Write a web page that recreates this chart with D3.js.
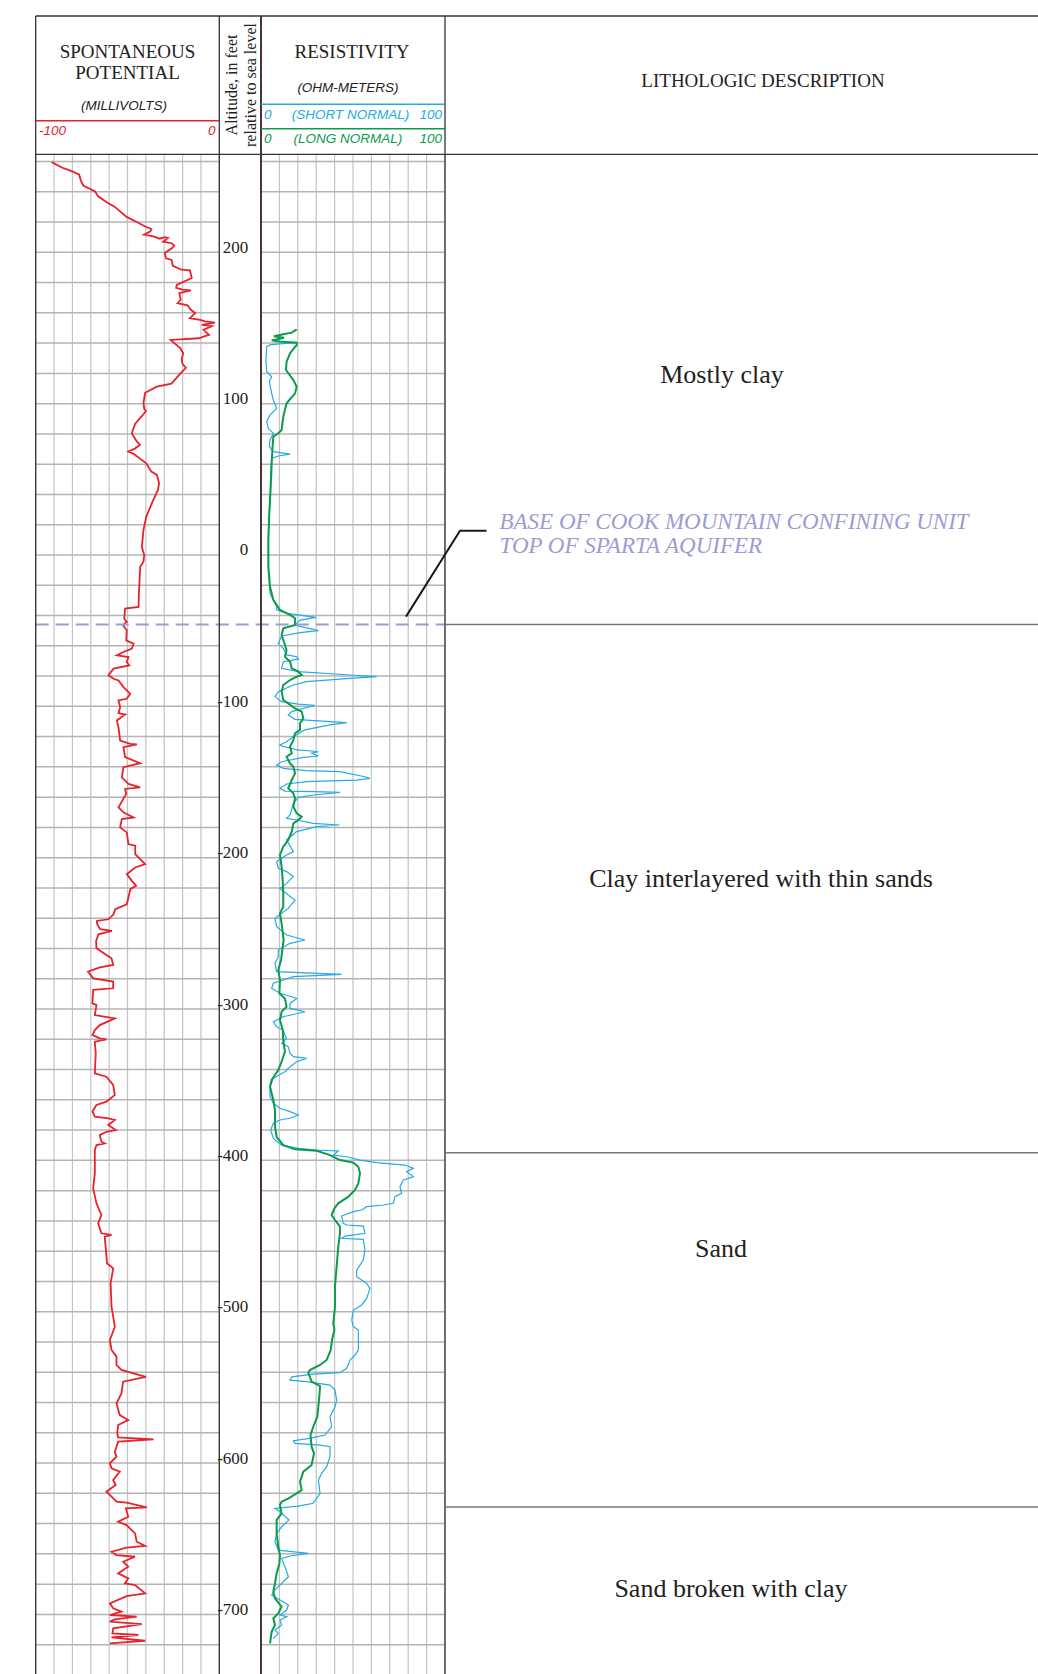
<!DOCTYPE html>
<html>
<head>
<meta charset="utf-8">
<script src="https://cdn.jsdelivr.net/npm/d3@7"></script>
<style>
  body { margin: 0; background: #fff; }
  svg { display: block; }
</style>
</head>
<body>
<svg id="root"></svg>
<script>
// spontaneous potential, [altitude ft, millivolts]
const spLog = [[259.6,-91.3],[256,-85.8],[253.6,-80.4],[251.4,-76.4],[247,-75.3],[244,-74],[240.4,-67.8],[237,-66],[233,-61.3],[230,-56.9],[223.4,-50.5],[220,-45],[216.7,-39.8],[215.4,-37],[213.9,-37.5],[211.7,-41],[210.5,-36],[209,-32.5],[210,-29.8],[209.5,-28],[207,-30.6],[206,-26],[204.4,-24.6],[203,-25.5],[199.6,-29.7],[196,-29],[195,-26],[191,-25.3],[188.5,-20.6],[188,-16],[183,-15],[178.5,-23.2],[176.5,-23.5],[175.3,-20],[174.8,-15.5],[173,-21.8],[168.6,-21],[166.4,-22.7],[164.9,-17.3],[162,-15.5],[159.8,-13.1],[156.5,-16],[155.4,-10.5],[154.3,-7.8],[153.6,-2.3],[152,-9.5],[151.2,-4],[148.8,-8.6],[145.4,-5.6],[144.3,-8.6],[143.2,-11],[142.1,-26.5],[139.5,-24],[136.6,-21.2],[133.3,-19.7],[128.9,-20.5],[126.2,-20],[123.7,-18.2],[119.4,-21.6],[113.2,-26.1],[111.2,-34],[107.2,-40.4],[100.6,-41.3],[96.6,-40.9],[95,-40],[91.7,-42.2],[86.8,-45.8],[82.8,-47],[80.5,-47.6],[78.4,-46.7],[75,-44.9],[72.8,-43.2],[70.3,-46],[68.4,-49.5],[66.8,-46.7],[60.6,-39.8],[55.1,-37],[52.9,-34],[47.4,-32.8],[43,-33.4],[36.3,-36],[25.3,-39.8],[16.5,-41.3],[5.4,-42.2],[0,-40.9],[-4.4,-41.3],[-7.8,-43.1],[-16.6,-43.4],[-25.4,-43.8],[-34.3,-44],[-35.4,-51.3],[-42,-51.8],[-44.2,-50.4],[-46.4,-52.5],[-49.7,-50.4],[-56.4,-50.7],[-58.6,-46.7],[-61.9,-47.6],[-64.1,-52.2],[-66.3,-55.8],[-67.4,-49.5],[-70.7,-50.4],[-73,-49],[-75.1,-57.6],[-79.5,-60.4],[-81.8,-57.6],[-82.9,-54.9],[-87.3,-52.2],[-91.7,-48.5],[-95,-50.4],[-96.1,-54.9],[-100.5,-54],[-104.5,-54.9],[-105.4,-51.3],[-109.3,-55.8],[-113.8,-54.9],[-122.6,-54],[-124.8,-48.5],[-125.2,-44.9],[-127,-52.2],[-133.6,-51.3],[-137.6,-43.1],[-140.2,-52.2],[-146.9,-53.1],[-151.3,-49.5],[-153.5,-43.1],[-154.6,-51.3],[-157.9,-50.7],[-166.7,-54.9],[-170,-52.2],[-173.4,-46.7],[-174.5,-53.1],[-180,-54],[-183.3,-50.4],[-191,-49.5],[-192.1,-45.8],[-197.6,-45.8],[-204.3,-40.4],[-206.5,-45.8],[-210.9,-50.4],[-215.3,-47.6],[-218.6,-45.3],[-220.8,-48.5],[-226.3,-49.5],[-230.8,-50.4],[-234.1,-56.7],[-237.4,-57.6],[-240.7,-60.4],[-241.8,-66.7],[-244,-66.5],[-247.3,-64.9],[-248.4,-58.5],[-250.6,-65.8],[-255.1,-67.1],[-259.9,-66.9],[-264.3,-61.5],[-266.5,-58.7],[-270.9,-57.8],[-272.5,-65.1],[-275.3,-71.5],[-279.7,-68.7],[-281.9,-57.8],[-286.3,-57.8],[-287.4,-68.7],[-296.3,-69.1],[-297.4,-66.9],[-304,-67.8],[-306.2,-56.9],[-310.6,-65.1],[-313.9,-67.8],[-317.2,-69.1],[-319.4,-65.1],[-320,-61.5],[-321.6,-67.8],[-329.3,-67.3],[-342.5,-67.8],[-344.7,-61.5],[-350.2,-57.8],[-356.8,-56.9],[-361.2,-61.5],[-363.4,-66.9],[-367.8,-69.1],[-371.1,-67.8],[-372.2,-60.5],[-373.3,-56.9],[-376.6,-60.5],[-380,-56.4],[-381.1,-61.5],[-383.3,-65.1],[-387.7,-64.2],[-388.8,-62.4],[-389.9,-66.9],[-393.2,-67.8],[-408.6,-67.8],[-418.5,-68.7],[-428.4,-66.9],[-436.1,-64.2],[-441.6,-66],[-448.2,-64.2],[-449.3,-58.7],[-450.4,-62.4],[-468.1,-61.1],[-471.4,-57.8],[-481.3,-59.2],[-496.7,-58.7],[-509.9,-56.9],[-518.7,-59.6],[-525.3,-58.7],[-529.7,-56],[-535.2,-56],[-538.5,-53.3],[-543,-40],[-546.2,-52.4],[-554,-53.3],[-560.6,-56],[-568.3,-54.2],[-571.6,-49.6],[-574.9,-55.1],[-580.4,-55.6],[-583,-55.1],[-584.4,-35.8],[-585.9,-55.1],[-592.5,-56.9],[-595.8,-56],[-600.2,-59.6],[-603.5,-58.7],[-605.7,-54.2],[-611.2,-57.8],[-614.5,-56.4],[-618.9,-61.5],[-622.2,-58.7],[-625.5,-56],[-626.2,-50.5],[-629.3,-39.5],[-629.9,-50.9],[-635.5,-49.6],[-638.8,-55.1],[-641,-50.5],[-646.5,-45.9],[-652,-45],[-654.8,-40.4],[-655.9,-50.5],[-658.6,-58.7],[-660.8,-56],[-661.9,-45.9],[-665.2,-52.4],[-668.5,-49.6],[-672.9,-55.1],[-676.2,-49.6],[-679.5,-51.4],[-680.6,-45.9],[-686.1,-40.4],[-687.9,-50.5],[-692.7,-59.6],[-696,-57.8],[-698.2,-53.3],[-700.4,-59.6],[-701.5,-45],[-703.3,-56.9],[-704.8,-59.6],[-706.4,-42.2],[-709.2,-57.8],[-712.5,-58.2],[-713.6,-44.1],[-715.2,-58.7],[-717.4,-40.4],[-719.2,-59.6]]

// long normal resistivity, [altitude ft, ohm-meters]
const longNormal = [[149.1,19.4],[146.9,16.7],[145.8,12.1],[144.5,7],[143.5,12.5],[142.6,9],[141.8,5.8],[141,10],[140.3,19.4],[138.8,19.4],[133.3,15.8],[127.7,13.9],[122.2,13.6],[115.6,17.6],[111.2,19.4],[106.8,18.5],[100.2,13.9],[91.4,12.1],[82.6,11.2],[80.4,9.4],[78.2,6.7],[71.6,6.3],[60.6,5.8],[45.2,5.3],[27.5,4.5],[9.9,4],[-7.7,4],[-20.9,4.9],[-29.7,6.7],[-36.3,10.3],[-39.6,15.8],[-41.8,18.5],[-46.3,18.5],[-48.5,12.1],[-52.9,11.2],[-56.2,12.1],[-59.5,13],[-62.8,13.9],[-67.2,13],[-70.5,15.8],[-74.9,16.7],[-77.1,20.3],[-79.3,22.1],[-80.4,19.4],[-82.6,15.8],[-85.9,12.1],[-90.3,11.2],[-95.8,12.1],[-101.3,18.5],[-103.5,22.1],[-107.9,23],[-111.2,21.2],[-115.6,21.2],[-117.8,18.5],[-122.2,17.6],[-126.6,15.8],[-131,16.7],[-133.3,13.9],[-137.7,15.8],[-139.9,17.6],[-144.3,18.5],[-148.7,16.7],[-154.2,14.8],[-157.5,17.6],[-160.8,18.5],[-166.3,17.6],[-170.7,19.4],[-172.9,22.1],[-175.1,20.3],[-177.3,17.6],[-182.8,16.7],[-188.3,14.8],[-192.7,12.1],[-198.2,10.3],[-206,11.2],[-214.8,11.8],[-223.6,12.1],[-232.4,12.1],[-236.8,10.3],[-243.4,11.2],[-254.4,12.3],[-258.8,11.8],[-267.6,10.9],[-274.2,9.4],[-280.8,10.3],[-289.6,10],[-293,13],[-298.5,13.9],[-301.8,11.2],[-307.3,10.3],[-313.9,11.8],[-320.5,12.1],[-328.2,13],[-334.8,11.2],[-340.3,9.4],[-346.9,5.8],[-351.3,4.9],[-360.1,6.7],[-366.7,7.6],[-377.7,7.6],[-384.4,8.5],[-389.9,12.1],[-392.7,18.5],[-393.6,30.3],[-396.5,37.5],[-399.8,42.9],[-401.5,50.2],[-404.2,52.9],[-408.6,53.8],[-415.2,52.9],[-419.6,51.1],[-424,47.5],[-428.4,42],[-431.7,39.9],[-436.1,38.4],[-439.4,40.2],[-443.8,42.9],[-448.2,42.9],[-457,42],[-470.3,41.1],[-483.5,40.2],[-496.7,40.2],[-507.7,39.3],[-512.1,39.9],[-518.7,38.6],[-525.3,37.9],[-531.9,35.7],[-535.2,32.1],[-538.5,26.6],[-540.3,25.7],[-546.2,27.5],[-549.1,32.1],[-556.2,31.7],[-569.4,30.6],[-576,28.4],[-581.5,26.9],[-589.2,27.5],[-593.6,28.8],[-601.3,27.5],[-605.7,23],[-612.3,21.2],[-617.8,22.1],[-620,19.4],[-623.3,14.9],[-625.5,11.2],[-627.7,10.3],[-633.3,11.2],[-637.7,8.5],[-646.5,8.5],[-655.3,9.4],[-660.8,10.3],[-666.3,10],[-672.9,8.5],[-679.5,7.6],[-685,6.7],[-689.4,7.6],[-694.9,11.2],[-699.3,9.4],[-702.6,6.7],[-707,7.6],[-711.4,5.8],[-719.2,4.9]]

// short normal resistivity, [altitude ft, ohm-meters]
const shortNormal = [[140.3,19.4],[139.5,10],[138.8,4.9],[137.7,3.1],[128.9,2.7],[121.1,3.1],[117.8,5.8],[114.5,4.5],[106.8,5.8],[102.4,6.7],[96.9,8.5],[92.5,4.9],[88.1,3.1],[83.7,4],[80.4,6.7],[76,4.9],[71.6,4.5],[68.3,6.7],[66.7,15.8],[65.4,9.4],[63.9,5.8],[54,5.3],[36.3,4.9],[14.3,4],[-7.7,4],[-25.3,4.9],[-34.1,8.5],[-36.3,8.5],[-38.5,13.9],[-39.6,20.3],[-41.2,29.9],[-43,21.2],[-46.3,18.5],[-50,31.2],[-51.3,21.2],[-53.5,11.2],[-58.4,9.4],[-61.7,12.1],[-66,14],[-67.2,19.4],[-68.7,20.3],[-70.5,12.1],[-74.9,11.2],[-77.1,20.3],[-79.3,48.4],[-80.4,62.9],[-81.5,48.4],[-83.7,24.8],[-85.9,17.6],[-90.3,9.4],[-93.6,7.6],[-96.9,11.2],[-98.5,20.3],[-99.3,29.3],[-103.5,16.7],[-105.7,14.8],[-108.6,18.5],[-110.1,37.5],[-110.8,46.6],[-112.3,37.5],[-115.6,23.9],[-120,17.6],[-123.4,13.9],[-125.5,10.3],[-126.6,12.1],[-127.7,16.7],[-128.8,19.4],[-129.5,27.5],[-130,31.2],[-131,27.5],[-132.8,31.2],[-133.7,23],[-136.6,11.2],[-138.8,8.5],[-141,12.1],[-142.5,24.8],[-143.2,42.9],[-146.5,56.5],[-147.6,59.2],[-148.7,52],[-149.8,24.8],[-151.3,13.9],[-154.2,10.3],[-156,13],[-156.4,28.4],[-156.8,42.9],[-158.6,28.4],[-160.1,20.3],[-164.1,17.6],[-171.8,15.8],[-174,13.9],[-175.1,19.4],[-177.3,28.4],[-178.4,42.6],[-179.5,30.2],[-182.8,19.4],[-188.3,13.9],[-196,17.6],[-198.2,13.9],[-202.6,8.5],[-207.1,9.4],[-209.2,13.9],[-212.5,17.6],[-217,13.9],[-220.3,10.3],[-224.7,14.8],[-228,18.5],[-233.5,14.8],[-240.1,7.6],[-245.6,8.5],[-251.1,13.9],[-254.4,23.9],[-256.6,15.8],[-261,9.4],[-265.4,9.4],[-269.8,7.6],[-275.3,8.5],[-277.1,43.8],[-278.6,17.6],[-283,6.7],[-286.3,5.8],[-289.6,10.3],[-291.9,16.7],[-293,19.4],[-296.3,15.8],[-299.6,15.8],[-300.7,20.3],[-301.8,23.9],[-305.1,12.1],[-308.4,6.7],[-311.7,8.5],[-313.9,12.1],[-317.2,13],[-319.4,13.9],[-322.7,11.2],[-324.9,14.8],[-329.3,15.8],[-331.5,17.6],[-332.6,24.8],[-334.8,19.4],[-338.1,15.8],[-341.4,13],[-345.8,6.7],[-351.3,4.9],[-357.9,4.9],[-362.3,6.7],[-365.6,10.3],[-367.8,15.8],[-370,20.3],[-372.2,15.8],[-373.3,10.3],[-375.5,6.7],[-380,5.3],[-385.5,6.7],[-389.9,11.2],[-392.1,20.3],[-393.2,30.3],[-393.8,42],[-396.5,39.3],[-397.6,46.6],[-399.8,53.8],[-401.5,62.9],[-403.1,78.3],[-405.3,82.8],[-407.5,79.2],[-410.8,82.8],[-413,77.4],[-417.4,75.5],[-421.8,76.4],[-424,72.8],[-428.4,71.9],[-429.5,66.5],[-430.6,57.4],[-432.8,54.7],[-433.9,50.2],[-436.8,43.8],[-441.6,44.7],[-442.7,46.6],[-443.4,55.6],[-448.2,56.5],[-450,45.7],[-451.5,43.8],[-452.2,55.6],[-459.2,56.5],[-465.9,55.6],[-472.5,52],[-476.9,52],[-481.3,57.4],[-484.6,59.2],[-491.2,57.4],[-495.6,54.7],[-498.9,50.2],[-505.5,49.3],[-509.9,50.2],[-512.1,52.9],[-525.3,52.9],[-528.6,51.1],[-531.9,48.4],[-537.4,46.6],[-540.3,42.9],[-541.2,28.4],[-543,16.7],[-545.2,15.8],[-546.2,24.6],[-548.5,37.5],[-551.8,40.2],[-558.4,41.1],[-562.8,40.2],[-569.4,37.5],[-576,38.4],[-581.5,34.8],[-583.7,26.6],[-585.2,17.6],[-587,18.5],[-588.1,32.1],[-589.2,37.5],[-595.8,37.5],[-602.4,35.7],[-606.8,33],[-611.2,31.2],[-620,32.1],[-626.6,28.4],[-628.4,20.3],[-630,7.6],[-632.2,10.3],[-637.7,15.2],[-642.1,11.2],[-646.5,8.5],[-652,7.6],[-657.5,9.4],[-659.7,25.7],[-661.4,15.8],[-663,11.2],[-668.5,13],[-675.1,14.9],[-678.4,12.1],[-683.9,7.6],[-687.2,5.8],[-690.5,10.3],[-693.8,14.9],[-697.1,13.9],[-700.4,10.3],[-701.5,13.9],[-703.7,10.3],[-707,11.2],[-710.3,7.6],[-712.5,9.4],[-715.8,6.7]]

const altTicks = [200, 100, 0, -100, -200, -300, -400, -500, -600, -700]
const gridAlts = d3.range(260, -741, -20)

// lithologic units: base altitude of each unit, label
const lithoBases = [-46, -395, -629]
const lithoLabels = ["Mostly clay", "Clay interlayered with thin sands", "Sand", "Sand broken with clay"]
const lithoLabelAlts = [113.4, -219.3, -463.6, -688.3]
const contactAlt = -46
const contactLines = ["BASE OF COOK MOUNTAIN CONFINING UNIT", "TOP OF SPARTA AQUIFER"]

const W = 1038, H = 1674
const serif = "'Liberation Serif', 'Times New Roman', serif"
const sans = "'Liberation Sans', Arial, sans-serif"
const red = "#e8212b", blue = "#22abe6", green = "#0b9b4a", lav = "#9c9bd3"

const svg = d3.select("#root").attr("width", W).attr("height", H)

// layout
const topY = 16, headBot = 154.3
const spL = 35.7, spR = 219.3, resL = 261, resR = 445

const yScale = d3.scaleLinear([200, -700], [252.3, 1614.4])
const xSP = d3.scaleLinear([-100, 0], [spL, spR])
const xRes = d3.scaleLinear([0, 100], [resL, resR])

// grid
const grid = svg.append("g")
grid.selectAll(".vsp").data(xSP.ticks(10)).join("line")
  .attr("x1", d => xSP(d)).attr("x2", d => xSP(d))
  .attr("y1", headBot).attr("y2", H)
  .attr("stroke", "#c4c4c4").attr("stroke-width", 1.2)
grid.selectAll(".vres").data(xRes.ticks(10)).join("line")
  .attr("x1", d => xRes(d)).attr("x2", d => xRes(d))
  .attr("y1", headBot).attr("y2", H)
  .attr("stroke", "#c4c4c4").attr("stroke-width", 1.2)
gridAlts.forEach(a => {
  [[spL, spR], [resL, resR]].forEach(([x1, x2]) => {
    grid.append("line")
      .attr("x1", x1).attr("x2", x2)
      .attr("y1", yScale(a)).attr("y2", yScale(a))
      .attr("stroke", "#b4b4b4").attr("stroke-width", 1.5)
  })
})

// curves
const line = (xs) => d3.line().x(d => xs(d[1])).y(d => yScale(d[0]))
svg.append("path").datum(shortNormal)
  .attr("fill", "none").attr("stroke", blue).attr("stroke-width", 1.2)
  .attr("d", line(xRes))
svg.append("path").datum(longNormal)
  .attr("fill", "none").attr("stroke", green).attr("stroke-width", 2)
  .attr("d", line(xRes))
svg.append("path").datum(spLog)
  .attr("fill", "none").attr("stroke", red).attr("stroke-width", 1.8)
  .attr("d", line(xSP))

// contact dashed line
svg.append("line")
  .attr("x1", spL).attr("x2", resR)
  .attr("y1", yScale(contactAlt)).attr("y2", yScale(contactAlt))
  .attr("stroke", lav).attr("stroke-width", 2).attr("stroke-dasharray", "13,7")

// frame
const frame = svg.append("g").attr("stroke", "#333").attr("stroke-width", 1.3)
frame.append("line").attr("x1", spL).attr("x2", W).attr("y1", topY).attr("y2", topY)
frame.append("line").attr("x1", spL).attr("x2", W).attr("y1", headBot).attr("y2", headBot)
;[spL, spR, resR].forEach(x => {
  frame.append("line").attr("x1", x).attr("x2", x).attr("y1", topY).attr("y2", H)
})
svg.append("line").attr("x1", resL).attr("x2", resL).attr("y1", topY).attr("y2", H)
  .attr("stroke", "#4a3434").attr("stroke-width", 2)

// lithology boundaries
svg.selectAll(".litho").data(lithoBases).join("line")
  .attr("x1", resR).attr("x2", W)
  .attr("y1", d => yScale(d)).attr("y2", d => yScale(d))
  .attr("stroke", "#777").attr("stroke-width", 1.5)

svg.selectAll(".litholab").data(lithoLabels).join("text")
  .attr("x", (d, i) => [722, 761, 721, 731][i])
  .attr("y", (d, i) => yScale(lithoLabelAlts[i]))
  .attr("text-anchor", "middle")
  .attr("font-family", serif).attr("font-size", 26).attr("fill", "#222")
  .text(d => d)

// altitude axis
const axis = svg.append("g")
  .attr("transform", `translate(${spR},0)`)
  .call(d3.axisRight(yScale).tickValues(altTicks).tickSize(0)
    .tickFormat(d => d < 0 ? "-" + (-d) : d))
axis.select(".domain").remove()
axis.selectAll("text")
  .attr("x", 29).attr("dy", "0").attr("text-anchor", "end")
  .attr("font-family", serif).attr("font-size", 17).attr("fill", "#222")

// header texts
const txt = (x, y, s, o) => {
  const t = svg.append("text").attr("x", x).attr("y", y).text(s)
    .attr("font-family", o.family || serif).attr("font-size", o.size || 19)
    .attr("fill", o.fill || "#222").attr("text-anchor", o.anchor || "middle")
  if (o.italic) t.attr("font-style", "italic")
  return t
}
txt(127.5, 58, "SPONTANEOUS", {})
txt(127.5, 79, "POTENTIAL", {})
txt(124, 110, "(MILLIVOLTS)", { family: sans, size: 13.5, italic: true })
svg.append("line").attr("x1", spL).attr("x2", spR).attr("y1", 120.7).attr("y2", 120.7)
  .attr("stroke", red).attr("stroke-width", 1.6)
txt(39, 135, "-100", { family: sans, size: 13.5, italic: true, fill: red, anchor: "start" })
txt(215.5, 135, "0", { family: sans, size: 13.5, italic: true, fill: red, anchor: "end" })

svg.append("text")
  .attr("transform", "translate(237,85) rotate(-90)")
  .attr("text-anchor", "middle").attr("font-family", serif).attr("font-size", 16).attr("fill", "#222")
  .text("Altitude, in feet")
svg.append("text")
  .attr("transform", "translate(256,85) rotate(-90)")
  .attr("text-anchor", "middle").attr("font-family", serif).attr("font-size", 16).attr("fill", "#222")
  .text("relative to sea level")

txt(352, 58, "RESISTIVITY", {})
txt(348, 92, "(OHM-METERS)", { family: sans, size: 13.5, italic: true })
svg.append("line").attr("x1", resL).attr("x2", resR).attr("y1", 104.3).attr("y2", 104.3)
  .attr("stroke", blue).attr("stroke-width", 1.5)
txt(264, 118.5, "0", { family: sans, size: 13.5, italic: true, fill: blue, anchor: "start" })
txt(350.5, 118.5, "(SHORT NORMAL)", { family: sans, size: 13.5, italic: true, fill: blue })
txt(442, 118.5, "100", { family: sans, size: 13.5, italic: true, fill: blue, anchor: "end" })
svg.append("line").attr("x1", resL).attr("x2", resR).attr("y1", 128.7).attr("y2", 128.7)
  .attr("stroke", green).attr("stroke-width", 1.5)
txt(264, 142.5, "0", { family: sans, size: 13.5, italic: true, fill: green, anchor: "start" })
txt(348, 142.5, "(LONG NORMAL)", { family: sans, size: 13.5, italic: true, fill: green })
txt(442, 142.5, "100", { family: sans, size: 13.5, italic: true, fill: green, anchor: "end" })

txt(763, 87, "LITHOLOGIC DESCRIPTION", { size: 19 })

// contact annotation
svg.append("path")
  .attr("d", `M406,${yScale(contactAlt) - 8} L460,530.7 L486.5,530.7`)
  .attr("fill", "none").attr("stroke", "#1a1a1a").attr("stroke-width", 2)
svg.selectAll(".contact").data(contactLines).join("text")
  .attr("x", 499.5).attr("y", (d, i) => 528.5 + i * 24.4)
  .attr("font-family", serif).attr("font-size", 23).attr("font-style", "italic")
  .attr("fill", lav).text(d => d)
</script>
</body>
</html>
